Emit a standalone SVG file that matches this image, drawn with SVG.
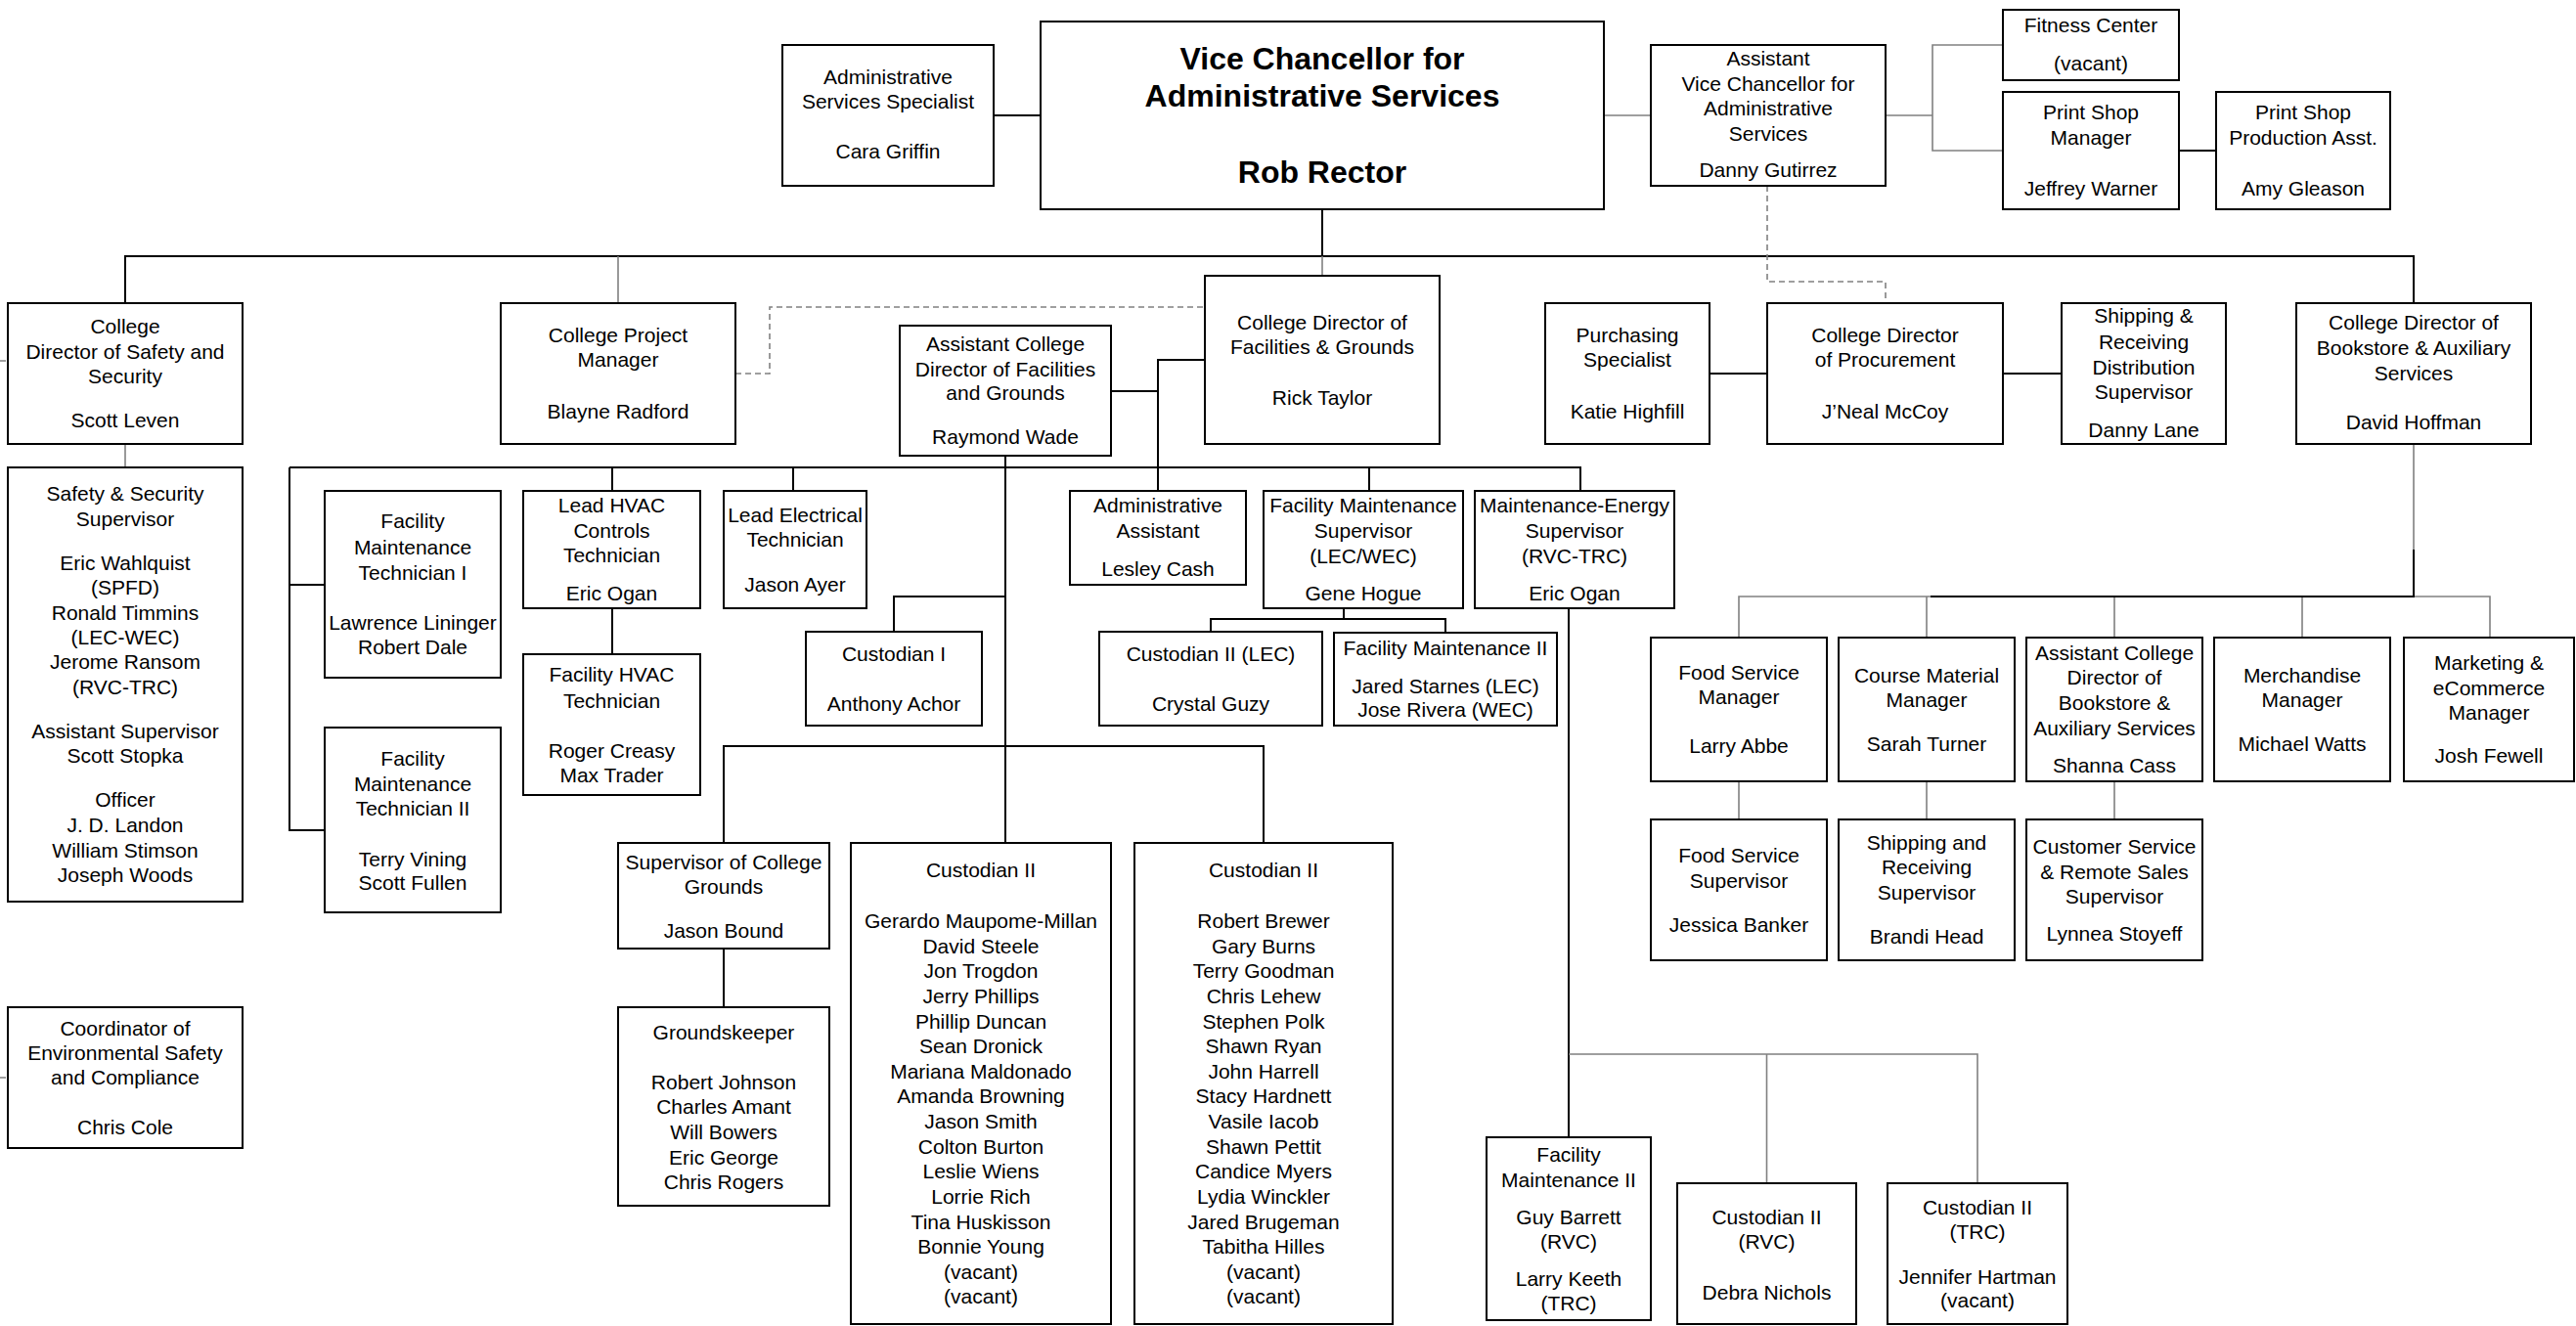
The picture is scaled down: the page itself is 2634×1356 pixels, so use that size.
<svg xmlns="http://www.w3.org/2000/svg" width="2634" height="1356" viewBox="0 0 2634 1356">
<style>
.b{fill:#fff;stroke:#000;stroke-width:2}
text{font-family:"Liberation Sans",Arial,sans-serif;font-size:21px;text-anchor:middle;fill:#000}
.h{font-size:32px;font-weight:bold}
.c{stroke:#000;stroke-width:2;fill:none}
.g{stroke:#808080;stroke-width:1.6;fill:none}
.d{stroke:#808080;stroke-width:1.6;fill:none;stroke-dasharray:6 4}
</style>
<rect width="2634" height="1356" fill="#fff"/>
<g id="connectors">
<path class="c" d="M128 310V262H2468V310"/>
<path class="c" d="M1016 118H1064"/>
<path class="c" d="M1352 214V262"/>
<path class="c" d="M2228 154H2266"/>
<path class="c" d="M1748 382H1807M2048 382H2108"/>
<path class="c" d="M1136 400H1184M1232 368H1184V502"/>
<path class="c" d="M296 478H1616V502"/>
<path class="c" d="M296 478V849H332M296 598H332"/>
<path class="c" d="M626 478V502M626 622V669"/>
<path class="c" d="M811 478V502"/>
<path class="c" d="M1028 466V862"/>
<path class="c" d="M1028 610H914V646"/>
<path class="c" d="M740 862V763H1292V862"/>
<path class="c" d="M740 970V1030"/>
<path class="c" d="M1400 478V502"/>
<path class="c" d="M1374 622V633M1238 646V633H1478V647"/>
<path class="c" d="M1604 622V1163"/>
<path class="g" d="M632 262V310"/>
<path class="g" d="M128 454V478"/>
<path class="g" d="M1640 118H1688M1928 118H1976M2048 46H1976V154H2048"/>
<path class="g" d="M1352 262V282"/>
<path class="g" d="M1604 1078H2022V1210M1806.5 1078V1210"/>
<path class="g" d="M2468 454V562M1778 652V610H2546V652M1970 610V652M2162 610V652M2354 610V652"/>
<path class="c" d="M2468 562V610H1974"/>
<path class="g" d="M1778 799V838M1970 799V838M2162 799V838"/>
<path class="d" d="M0 369H8M0 1102H8"/>
<path class="d" d="M752 382H787V314H1232"/>
<path class="d" d="M1807 190V288H1928V310"/>
</g>
<g id="vc"><rect class="b" x="1064" y="22" width="576" height="192"/><text class="h"><tspan x="1352" y="71">Vice Chancellor for</tspan><tspan x="1352" y="109">Administrative Services</tspan><tspan x="1352" y="187">Rob Rector</tspan></text></g>
<g id="ass"><rect class="b" x="800" y="46" width="216" height="144"/><text><tspan x="908" y="86">Administrative</tspan><tspan x="908" y="111">Services Specialist</tspan><tspan x="908" y="162">Cara Griffin</tspan></text></g>
<g id="avc"><rect class="b" x="1688" y="46" width="240" height="144"/><text><tspan x="1808" y="67">Assistant</tspan><tspan x="1808" y="93">Vice Chancellor for</tspan><tspan x="1808" y="118">Administrative</tspan><tspan x="1808" y="144">Services</tspan><tspan x="1808" y="181">Danny Gutirrez</tspan></text></g>
<g id="fitness"><rect class="b" x="2048" y="10" width="180" height="72"/><text><tspan x="2138" y="33">Fitness Center</tspan><tspan x="2138" y="72">(vacant)</tspan></text></g>
<g id="psm"><rect class="b" x="2048" y="94" width="180" height="120"/><text><tspan x="2138" y="122">Print Shop</tspan><tspan x="2138" y="148">Manager</tspan><tspan x="2138" y="200">Jeffrey Warner</tspan></text></g>
<g id="psp"><rect class="b" x="2266" y="94" width="178" height="120"/><text><tspan x="2355" y="122">Print Shop</tspan><tspan x="2355" y="148">Production Asst.</tspan><tspan x="2355" y="200">Amy Gleason</tspan></text></g>
<g id="safetydir"><rect class="b" x="8" y="310" width="240" height="144"/><text><tspan x="128" y="341">College</tspan><tspan x="128" y="367">Director of Safety and</tspan><tspan x="128" y="392">Security</tspan><tspan x="128" y="437">Scott Leven</tspan></text></g>
<g id="pm"><rect class="b" x="512" y="310" width="240" height="144"/><text><tspan x="632" y="350">College Project</tspan><tspan x="632" y="375">Manager</tspan><tspan x="632" y="428">Blayne Radford</tspan></text></g>
<g id="asstfac"><rect class="b" x="920" y="333" width="216" height="133"/><text><tspan x="1028" y="359">Assistant College</tspan><tspan x="1028" y="385">Director of Facilities</tspan><tspan x="1028" y="409">and Grounds</tspan><tspan x="1028" y="454">Raymond Wade</tspan></text></g>
<g id="facdir"><rect class="b" x="1232" y="282" width="240" height="172"/><text><tspan x="1352" y="337">College Director of</tspan><tspan x="1352" y="362">Facilities &amp; Grounds</tspan><tspan x="1352" y="414">Rick Taylor</tspan></text></g>
<g id="purch"><rect class="b" x="1580" y="310" width="168" height="144"/><text><tspan x="1664" y="350">Purchasing</tspan><tspan x="1664" y="375">Specialist</tspan><tspan x="1664" y="428">Katie Highfill</tspan></text></g>
<g id="proc"><rect class="b" x="1807" y="310" width="241" height="144"/><text><tspan x="1927.5" y="350">College Director</tspan><tspan x="1927.5" y="375">of Procurement</tspan><tspan x="1927.5" y="428">J’Neal McCoy</tspan></text></g>
<g id="ship"><rect class="b" x="2108" y="310" width="168" height="144"/><text><tspan x="2192" y="330">Shipping &amp;</tspan><tspan x="2192" y="357">Receiving</tspan><tspan x="2192" y="383">Distribution</tspan><tspan x="2192" y="408">Supervisor</tspan><tspan x="2192" y="447">Danny Lane</tspan></text></g>
<g id="bookdir"><rect class="b" x="2348" y="310" width="240" height="144"/><text><tspan x="2468" y="337">College Director of</tspan><tspan x="2468" y="363">Bookstore &amp; Auxiliary</tspan><tspan x="2468" y="389">Services</tspan><tspan x="2468" y="439">David Hoffman</tspan></text></g>
<g id="sssup"><rect class="b" x="8" y="478" width="240" height="444"/><text><tspan x="128" y="512">Safety &amp; Security</tspan><tspan x="128" y="538">Supervisor</tspan><tspan x="128" y="583">Eric Wahlquist</tspan><tspan x="128" y="608">(SPFD)</tspan><tspan x="128" y="634">Ronald Timmins</tspan><tspan x="128" y="659">(LEC-WEC)</tspan><tspan x="128" y="684">Jerome Ransom</tspan><tspan x="128" y="710">(RVC-TRC)</tspan><tspan x="128" y="755">Assistant Supervisor</tspan><tspan x="128" y="780">Scott Stopka</tspan><tspan x="128" y="825">Officer</tspan><tspan x="128" y="851">J. D. Landon</tspan><tspan x="128" y="877">William Stimson</tspan><tspan x="128" y="902">Joseph Woods</tspan></text></g>
<g id="fmt1"><rect class="b" x="332" y="502" width="180" height="191"/><text><tspan x="422" y="540">Facility</tspan><tspan x="422" y="567">Maintenance</tspan><tspan x="422" y="593">Technician I</tspan><tspan x="422" y="644">Lawrence Lininger</tspan><tspan x="422" y="669">Robert Dale</tspan></text></g>
<g id="fmt2"><rect class="b" x="332" y="744" width="180" height="189"/><text><tspan x="422" y="783">Facility</tspan><tspan x="422" y="809">Maintenance</tspan><tspan x="422" y="834">Technician II</tspan><tspan x="422" y="886">Terry Vining</tspan><tspan x="422" y="910">Scott Fullen</tspan></text></g>
<g id="leadhvac"><rect class="b" x="535" y="502" width="181" height="120"/><text><tspan x="625.5" y="524">Lead HVAC</tspan><tspan x="625.5" y="550">Controls</tspan><tspan x="625.5" y="575">Technician</tspan><tspan x="625.5" y="614">Eric Ogan</tspan></text></g>
<g id="fachvac"><rect class="b" x="535" y="669" width="181" height="144"/><text><tspan x="625.5" y="697">Facility HVAC</tspan><tspan x="625.5" y="724">Technician</tspan><tspan x="625.5" y="775">Roger Creasy</tspan><tspan x="625.5" y="800">Max Trader</tspan></text></g>
<g id="leadelec"><rect class="b" x="740" y="502" width="146" height="120"/><text><tspan x="813" y="534">Lead Electrical</tspan><tspan x="813" y="559">Technician</tspan><tspan x="813" y="605">Jason Ayer</tspan></text></g>
<g id="cust1"><rect class="b" x="824" y="646" width="180" height="96"/><text><tspan x="914" y="676">Custodian I</tspan><tspan x="914" y="727">Anthony Achor</tspan></text></g>
<g id="adminasst"><rect class="b" x="1094" y="502" width="180" height="96"/><text><tspan x="1184" y="524">Administrative</tspan><tspan x="1184" y="550">Assistant</tspan><tspan x="1184" y="589">Lesley Cash</tspan></text></g>
<g id="fmsup"><rect class="b" x="1292" y="502" width="204" height="120"/><text><tspan x="1394" y="524">Facility Maintenance</tspan><tspan x="1394" y="550">Supervisor</tspan><tspan x="1394" y="576">(LEC/WEC)</tspan><tspan x="1394" y="614">Gene Hogue</tspan></text></g>
<g id="mesup"><rect class="b" x="1508" y="502" width="204" height="120"/><text><tspan x="1610" y="524">Maintenance-Energy</tspan><tspan x="1610" y="550">Supervisor</tspan><tspan x="1610" y="576">(RVC-TRC)</tspan><tspan x="1610" y="614">Eric Ogan</tspan></text></g>
<g id="cust2lec"><rect class="b" x="1124" y="646" width="228" height="96"/><text><tspan x="1238" y="676">Custodian II (LEC)</tspan><tspan x="1238" y="727">Crystal Guzy</tspan></text></g>
<g id="fm2"><rect class="b" x="1364" y="647" width="228" height="95"/><text><tspan x="1478" y="670">Facility Maintenance II</tspan><tspan x="1478" y="709">Jared Starnes (LEC)</tspan><tspan x="1478" y="733">Jose Rivera (WEC)</tspan></text></g>
<g id="supgrounds"><rect class="b" x="632" y="862" width="216" height="108"/><text><tspan x="740" y="889">Supervisor of College</tspan><tspan x="740" y="914">Grounds</tspan><tspan x="740" y="959">Jason Bound</tspan></text></g>
<g id="groundskeeper"><rect class="b" x="632" y="1030" width="216" height="203"/><text><tspan x="740" y="1063">Groundskeeper</tspan><tspan x="740" y="1114">Robert Johnson</tspan><tspan x="740" y="1139">Charles  Amant</tspan><tspan x="740" y="1165">Will Bowers</tspan><tspan x="740" y="1191">Eric George</tspan><tspan x="740" y="1216">Chris Rogers</tspan></text></g>
<g id="cust2a"><rect class="b" x="870" y="862" width="266" height="492"/><text><tspan x="1003" y="897">Custodian II</tspan><tspan x="1003" y="949">Gerardo Maupome-Millan</tspan><tspan x="1003" y="975">David Steele</tspan><tspan x="1003" y="1000">Jon Trogdon</tspan><tspan x="1003" y="1026">Jerry Phillips</tspan><tspan x="1003" y="1052">Phillip Duncan</tspan><tspan x="1003" y="1077">Sean Dronick</tspan><tspan x="1003" y="1103">Mariana Maldonado</tspan><tspan x="1003" y="1128">Amanda Browning</tspan><tspan x="1003" y="1154">Jason Smith</tspan><tspan x="1003" y="1180">Colton Burton</tspan><tspan x="1003" y="1205">Leslie Wiens</tspan><tspan x="1003" y="1231">Lorrie Rich</tspan><tspan x="1003" y="1257">Tina Huskisson</tspan><tspan x="1003" y="1282">Bonnie Young</tspan><tspan x="1003" y="1308">(vacant)</tspan><tspan x="1003" y="1333">(vacant)</tspan></text></g>
<g id="cust2b"><rect class="b" x="1160" y="862" width="264" height="492"/><text><tspan x="1292" y="897">Custodian II</tspan><tspan x="1292" y="949">Robert Brewer</tspan><tspan x="1292" y="975">Gary Burns</tspan><tspan x="1292" y="1000">Terry Goodman</tspan><tspan x="1292" y="1026">Chris Lehew</tspan><tspan x="1292" y="1052">Stephen Polk</tspan><tspan x="1292" y="1077">Shawn Ryan</tspan><tspan x="1292" y="1103">John Harrell</tspan><tspan x="1292" y="1128">Stacy Hardnett</tspan><tspan x="1292" y="1154">Vasile Iacob</tspan><tspan x="1292" y="1180">Shawn Pettit</tspan><tspan x="1292" y="1205">Candice Myers</tspan><tspan x="1292" y="1231">Lydia Winckler</tspan><tspan x="1292" y="1257">Jared Brugeman</tspan><tspan x="1292" y="1282">Tabitha Hilles</tspan><tspan x="1292" y="1308">(vacant)</tspan><tspan x="1292" y="1333">(vacant)</tspan></text></g>
<g id="foodmgr"><rect class="b" x="1688" y="652" width="180" height="147"/><text><tspan x="1778" y="695">Food Service</tspan><tspan x="1778" y="720">Manager</tspan><tspan x="1778" y="770">Larry Abbe</tspan></text></g>
<g id="coursemgr"><rect class="b" x="1880" y="652" width="180" height="147"/><text><tspan x="1970" y="698">Course Material</tspan><tspan x="1970" y="723">Manager</tspan><tspan x="1970" y="768">Sarah Turner</tspan></text></g>
<g id="asstbook"><rect class="b" x="2072" y="652" width="180" height="147"/><text><tspan x="2162" y="675">Assistant College</tspan><tspan x="2162" y="700">Director of</tspan><tspan x="2162" y="726">Bookstore &amp;</tspan><tspan x="2162" y="752">Auxiliary Services</tspan><tspan x="2162" y="790">Shanna Cass</tspan></text></g>
<g id="merch"><rect class="b" x="2264" y="652" width="180" height="147"/><text><tspan x="2354" y="698">Merchandise</tspan><tspan x="2354" y="723">Manager</tspan><tspan x="2354" y="768">Michael Watts</tspan></text></g>
<g id="marketing"><rect class="b" x="2458" y="652" width="174" height="147"/><text><tspan x="2545" y="685">Marketing &amp;</tspan><tspan x="2545" y="711">eCommerce</tspan><tspan x="2545" y="736">Manager</tspan><tspan x="2545" y="780">Josh Fewell</tspan></text></g>
<g id="foodsup"><rect class="b" x="1688" y="838" width="180" height="144"/><text><tspan x="1778" y="882">Food Service</tspan><tspan x="1778" y="908">Supervisor</tspan><tspan x="1778" y="953">Jessica Banker</tspan></text></g>
<g id="shiprecsup"><rect class="b" x="1880" y="838" width="180" height="144"/><text><tspan x="1970" y="869">Shipping and</tspan><tspan x="1970" y="894">Receiving</tspan><tspan x="1970" y="920">Supervisor</tspan><tspan x="1970" y="965">Brandi Head</tspan></text></g>
<g id="custsvc"><rect class="b" x="2072" y="838" width="180" height="144"/><text><tspan x="2162" y="873">Customer Service</tspan><tspan x="2162" y="899">&amp; Remote Sales</tspan><tspan x="2162" y="924">Supervisor</tspan><tspan x="2162" y="962">Lynnea Stoyeff</tspan></text></g>
<g id="coord"><rect class="b" x="8" y="1030" width="240" height="144"/><text><tspan x="128" y="1059">Coordinator of</tspan><tspan x="128" y="1084">Environmental Safety</tspan><tspan x="128" y="1109">and Compliance</tspan><tspan x="128" y="1160">Chris Cole</tspan></text></g>
<g id="fm2rvc"><rect class="b" x="1520" y="1163" width="168" height="187"/><text><tspan x="1604" y="1188">Facility</tspan><tspan x="1604" y="1214">Maintenance II</tspan><tspan x="1604" y="1252">Guy Barrett</tspan><tspan x="1604" y="1277">(RVC)</tspan><tspan x="1604" y="1315">Larry Keeth</tspan><tspan x="1604" y="1340">(TRC)</tspan></text></g>
<g id="cust2rvc"><rect class="b" x="1715" y="1210" width="183" height="144"/><text><tspan x="1806.5" y="1252">Custodian II</tspan><tspan x="1806.5" y="1277">(RVC)</tspan><tspan x="1806.5" y="1329">Debra Nichols</tspan></text></g>
<g id="cust2trc"><rect class="b" x="1930" y="1210" width="184" height="144"/><text><tspan x="2022" y="1242">Custodian II</tspan><tspan x="2022" y="1267">(TRC)</tspan><tspan x="2022" y="1313">Jennifer Hartman</tspan><tspan x="2022" y="1337">(vacant)</tspan></text></g>
</svg>
